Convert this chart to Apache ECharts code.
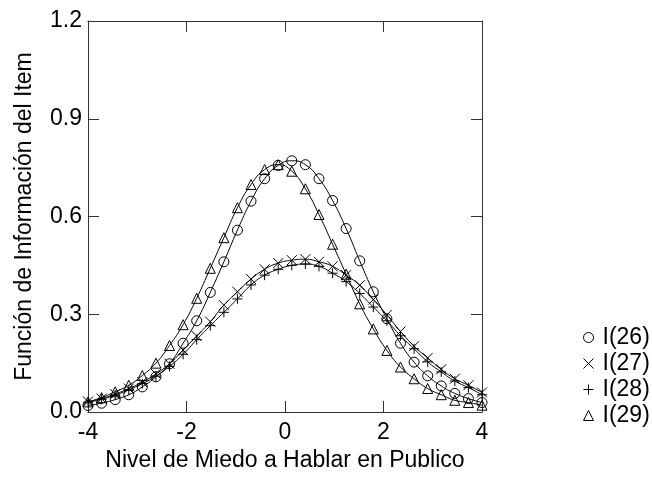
<!DOCTYPE html>
<html>
<head>
<meta charset="utf-8">
<script src="https://cdn.jsdelivr.net/npm/echarts@6/dist/echarts.min.js"></script>
<style>
  html, body { margin: 0; padding: 0; background: #fff; }
  #chart { width: 652px; height: 477px; }
</style>
</head>
<body>
<div id="chart"></div>
<script>
// theta grid where the markers sit
const theta = [-4.000, -3.724, -3.448, -3.172, -2.897, -2.621, -2.345, -2.069, -1.793, -1.517,
  -1.241, -0.966, -0.690, -0.414, -0.138, 0.138, 0.414, 0.690, 0.966, 1.241,
  1.517, 1.793, 2.069, 2.345, 2.621, 2.897, 3.172, 3.448, 3.724, 4.000]

// item information
const item26 = [0.020, 0.027, 0.038, 0.053, 0.077, 0.108, 0.148, 0.211, 0.280, 0.367,
  0.461, 0.558, 0.647, 0.716, 0.757, 0.771, 0.759, 0.716, 0.649, 0.563,
  0.464, 0.369, 0.286, 0.211, 0.153, 0.111, 0.080, 0.057, 0.041, 0.029]
const item27 = [0.032, 0.041, 0.055, 0.072, 0.092, 0.117, 0.148, 0.190, 0.233, 0.277,
  0.328, 0.369, 0.408, 0.438, 0.457, 0.466, 0.469, 0.461, 0.447, 0.420,
  0.389, 0.345, 0.298, 0.247, 0.202, 0.166, 0.131, 0.102, 0.082, 0.060]
const item28 = [0.030, 0.039, 0.052, 0.068, 0.087, 0.110, 0.140, 0.177, 0.222, 0.265,
  0.306, 0.347, 0.390, 0.420, 0.438, 0.450, 0.454, 0.447, 0.426, 0.400,
  0.364, 0.322, 0.280, 0.234, 0.194, 0.154, 0.123, 0.095, 0.075, 0.053]
const item29 = [0.031, 0.044, 0.062, 0.082, 0.112, 0.150, 0.204, 0.268, 0.349, 0.441,
  0.535, 0.627, 0.698, 0.744, 0.759, 0.739, 0.685, 0.606, 0.515, 0.423,
  0.332, 0.255, 0.189, 0.138, 0.102, 0.072, 0.053, 0.036, 0.029, 0.021]

const names = ['I(26)', 'I(27)', 'I(28)', 'I(29)']

const font = '"Liberation Sans", Arial, sans-serif'
const crossPath = 'path://M0,0L10,10M10,0L0,10'
const plusPath = 'path://M5,0L5,10M0,5L10,5'
const symbols = ['circle', crossPath, plusPath, 'triangle']
const axisColor = '#333'

function pairs(ys) {
  return theta.map((t, i) => [t, ys[i]])
}

function makeSeries(name, ys, symbol) {
  return {
    name: name,
    type: 'line',
    data: pairs(ys),
    smooth: true,
    symbol: symbol,
    symbolSize: 10,
    showAllSymbol: true,
    clip: false,
    animation: false,
    lineStyle: {color: '#000', width: 1},
    itemStyle: {color: 'rgba(0,0,0,0)', borderColor: '#000', borderWidth: 1}
  }
}

function boxAxis(extra) {
  return Object.assign({
    type: 'value',
    axisLine: {show: true, onZero: false, lineStyle: {color: axisColor, width: 1}},
    axisTick: {show: true, inside: true, length: 11, lineStyle: {color: axisColor}},
    splitLine: {show: false}
  }, extra)
}

const chart = echarts.init(document.getElementById('chart'), null, {renderer: 'canvas'})

chart.setOption({
  backgroundColor: '#fff',
  animation: false,
  textStyle: {fontFamily: font},
  grid: {left: 88, right: 170, top: 21, bottom: 63, containLabel: false},
  legend: {
    orient: 'vertical',
    left: 578,
    top: 321,
    itemWidth: 10,
    itemHeight: 10,
    itemGap: 3,
    selectedMode: false,
    data: names.map((n, i) => ({name: n, icon: symbols[i]})),
    itemStyle: {color: 'rgba(0,0,0,0)', borderColor: '#000', borderWidth: 1},
    textStyle: {fontFamily: font, fontSize: 23, color: '#000', lineHeight: 22, padding: [0, 0, 0, 4]}
  },
  xAxis: [
    boxAxis({
      min: -4, max: 4, interval: 2, position: 'bottom',
      name: 'Nivel de Miedo a Hablar en Publico',
      nameLocation: 'middle', nameGap: 37,
      nameTextStyle: {fontFamily: font, fontSize: 23, color: '#000'},
      axisLabel: {fontFamily: font, fontSize: 23, color: '#000', margin: 9}
    }),
    boxAxis({min: -4, max: 4, interval: 2, position: 'top', axisLabel: {show: false}})
  ],
  yAxis: [
    boxAxis({
      min: 0, max: 1.2, interval: 0.3, position: 'left',
      name: 'Función de Información del Item',
      nameLocation: 'middle', nameGap: 52,
      nameTextStyle: {fontFamily: font, fontSize: 23, color: '#000'},
      axisLabel: {fontFamily: font, fontSize: 23, color: '#000', margin: 6,
        formatter: v => v.toFixed(1)}
    }),
    boxAxis({min: 0, max: 1.2, interval: 0.3, position: 'right', axisLabel: {show: false}})
  ],
  series: [
    makeSeries(names[0], item26, symbols[0]),
    makeSeries(names[1], item27, symbols[1]),
    makeSeries(names[2], item28, symbols[2]),
    makeSeries(names[3], item29, symbols[3])
  ]
})
</script>
</body>
</html>
